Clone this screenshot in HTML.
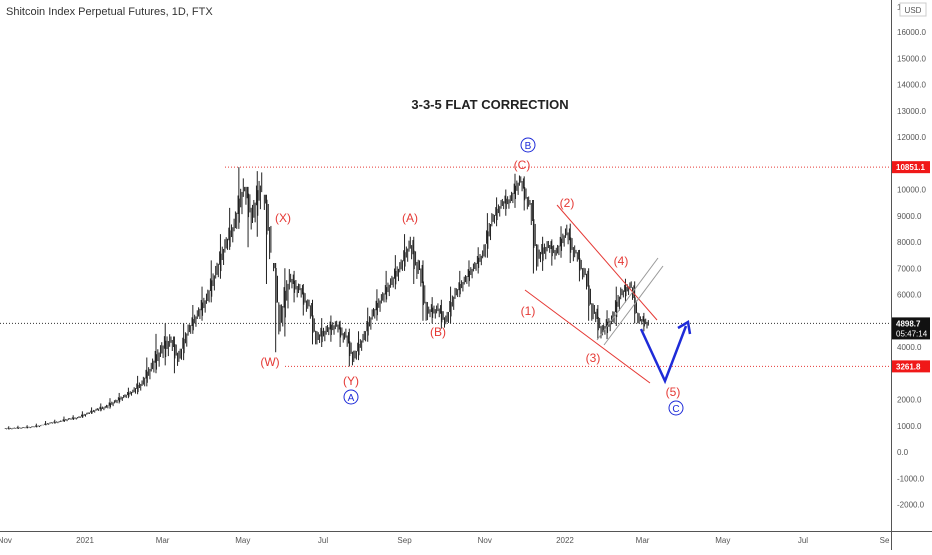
<!DOCTYPE html>
<html><head><meta charset="utf-8"><style>
body{margin:0;background:#fff;font-family:"Liberation Sans",sans-serif}
svg text{font-family:"Liberation Sans",sans-serif}
</style></head><body>
<svg id="chart" width="932" height="550" viewBox="0 0 932 550" xmlns="http://www.w3.org/2000/svg">
<rect width="932" height="550" fill="#fff"/>
<text x="6" y="15" font-size="11" fill="#333">Shitcoin Index Perpetual Futures, 1D, FTX</text>
<line x1="891.5" y1="0" x2="891.5" y2="550" stroke="#555"/>
<line x1="0" y1="531.5" x2="932" y2="531.5" stroke="#555"/>
<g id="yticks"></g>
<g id="xticks"></g>
<g id="levels"></g>
<g id="bars"></g>
<g>
<text x="490" y="109" font-size="13" font-weight="bold" text-anchor="middle" fill="#222">3-3-5 FLAT CORRECTION</text>
<g fill="#e53935" font-size="12" text-anchor="middle">
<text x="283" y="222">(X)</text>
<text x="270" y="366">(W)</text>
<text x="351" y="385">(Y)</text>
<text x="410" y="222">(A)</text>
<text x="438" y="336">(B)</text>
<text x="522" y="169">(C)</text>
<text x="528" y="315">(1)</text>
<text x="567" y="207">(2)</text>
<text x="593" y="362">(3)</text>
<text x="621" y="265">(4)</text>
<text x="673" y="396">(5)</text>
</g>
<g fill="none" stroke="#1e2bd8" stroke-width="1">
<circle cx="351" cy="397" r="7"/>
<circle cx="528" cy="145" r="7"/>
<circle cx="676" cy="408" r="7"/>
</g>
<g fill="#1e2bd8" font-size="10" text-anchor="middle">
<text x="351" y="401">A</text><text x="528" y="149">B</text><text x="676" y="412">C</text>
</g>
<line x1="557" y1="205" x2="657" y2="320" stroke="#e53935"/>
<line x1="525" y1="290" x2="650" y2="383" stroke="#e53935"/>
<line x1="597" y1="340" x2="658" y2="258" stroke="#999"/>
<line x1="604" y1="345" x2="663" y2="266" stroke="#999"/>
<polyline points="641,329 665,381 686,326" fill="none" stroke="#1e2bd8" stroke-width="2.5"/>
<polyline points="678,328 688,322 690,334" fill="none" stroke="#1e2bd8" stroke-width="2.5"/>
</g>
<g id="labels"></g>
<rect x="900" y="3" width="26" height="13" fill="#fff" stroke="#ccc"/>
<text x="913" y="13" font-size="8" fill="#555" text-anchor="middle">USD</text>
</svg>
<script>
const yTicks=[16000,15000,14000,13000,12000,11000,10000,9000,8000,7000,6000,5000,4000,3000,2000,1000,0,-1000,-2000];
const xTickLabels=["Nov","2021","Mar","May","Jul","Sep","Nov","2022","Mar","May","Jul","Se"];
const xTickDays=[-61,0,59,120,181,243,304,365,424,485,546,608];
const startDay=-61;
const closes=[900,920,950,1000,1100,1150,1250,1300,1450,1600,1700,1900,2100,2300,2600,3200,3800,4200,3600,4600,5200,5800,6800,7800,8600,10000,9000,10200,8000,5000,6500,6200,5600,4300,4600,4800,4400,3600,4300,5200,5800,6400,7000,7800,7000,5300,5400,5000,6000,6500,7000,7500,8800,9400,9600,10300,9500,7400,7800,7600,8300,7600,6800,5300,4600,5000,6000,6300,5000,4899];
const highs=[980,1000,1020,1080,1180,1230,1350,1400,1550,1700,1850,2050,2250,2450,2900,3600,4500,4900,4400,4900,5600,6300,7300,8300,9300,10851,10100,10700,9800,7200,7000,6900,6400,5800,5100,5200,5000,4700,4600,5500,6200,6900,7500,8300,8200,7300,5900,5800,6300,6900,7300,7800,9100,9700,10000,10600,10500,9600,8200,8100,8600,8700,7700,7000,5600,5400,6300,6600,6500,5300];
const lows=[860,880,900,940,1020,1080,1150,1220,1300,1450,1550,1650,1850,2050,2200,2500,3000,3300,3000,3500,4500,5000,5700,6600,7700,8500,7800,8200,6400,3800,4400,5700,5200,4100,4000,4200,4000,3261,3500,4200,5000,5700,6200,6900,6400,5000,4900,4700,4900,5900,6300,6800,7400,8600,9000,9300,9200,6800,6900,7100,7400,7200,6500,5000,4300,4300,4800,5700,4900,4600];
const X=d=>85+d*1.315, Y=v=>452-v*0.02625;
const NS="http://www.w3.org/2000/svg";
function mk(tag,attrs,parent,txt){const e=document.createElementNS(NS,tag);for(const k in attrs)e.setAttribute(k,attrs[k]);if(txt!=null)e.textContent=txt;parent.appendChild(e);return e;}
const yt=document.getElementById('yticks');
yTicks.forEach(v=>{if(v===11000||v===3000)return;const t=mk('text',{x:897,y:Y(v)+3,'font-size':8,fill:'#555'},yt,v.toFixed(1));

});
const xt=document.getElementById('xticks');
xTickLabels.forEach((l,i)=>{const t=mk('text',{x:X(xTickDays[i]),y:543,'font-size':8,fill:'#555','text-anchor':'middle'},xt,l);

});
const lv=document.getElementById('levels');
const l1=mk('line',{x1:225,y1:Y(10851.1),x2:891,y2:Y(10851.1),stroke:'#e53935','stroke-dasharray':'1,2'},lv);


const l2=mk('line',{x1:285,y1:Y(3261.8),x2:891,y2:Y(3261.8),stroke:'#e53935','stroke-dasharray':'1,2'},lv);


const l3=mk('line',{x1:0,y1:Y(4898.7),x2:891,y2:Y(4898.7),stroke:'#333','stroke-dasharray':'1,2'},lv);


const bg=document.getElementById('bars');
const fr=[[0.1,0.55],[0.3,0.8],[0.0,0.5],[0.25,0.9],[0.15,0.65],[0.4,1.0],[0.2,0.7]];
closes.forEach((c,i)=>{const o=i?closes[i-1]:c*0.98;const h=highs[i],lo=lows[i],r=h-lo;
const g=mk('g',{stroke:'#222','stroke-width':1},bg);


for(let k=0;k<7;k++){const x=X(startDay+i*7+k)+0.5;const top=o+(c-o)*k/6;
const a=Math.max(lo,Math.min(h,top+r*(0.5-fr[k][0])*0.6)),b=Math.max(lo,Math.min(h,top-r*(fr[k][1]-0.5)*0.6));
mk('line',{x1:x,y1:Y(a),x2:x,y2:Y(b)},g);}
const xm=X(startDay+i*7+3);mk('line',{x1:xm,y1:Y(h),x2:xm,y2:Y(lo)},g);});
const lb=document.getElementById('labels');
function tag(v,txt,fill,h,name,sub){const y=Y(v);const g=mk('g',{},lb);


mk('rect',{x:892,y:y-6,width:38,height:h,fill:fill},g);mk('text',{x:896,y:y+3,'font-size':8,fill:'#fff','font-weight':'bold'},g,txt);
if(sub)mk('text',{x:896,y:y+13,'font-size':8,fill:'#fff'},g,sub);}
tag(10851.1,'10851.1','#f01818',12,'high-price-label');
tag(4898.7,'4898.7','#111',22,'last-price-label','05:47:14');
tag(3261.8,'3261.8','#f01818',12,'low-price-label');
mk('text',{x:897,y:Y(16950)+3,'font-size':8,fill:'#555'},yt,'1');
</script>
</body></html>
